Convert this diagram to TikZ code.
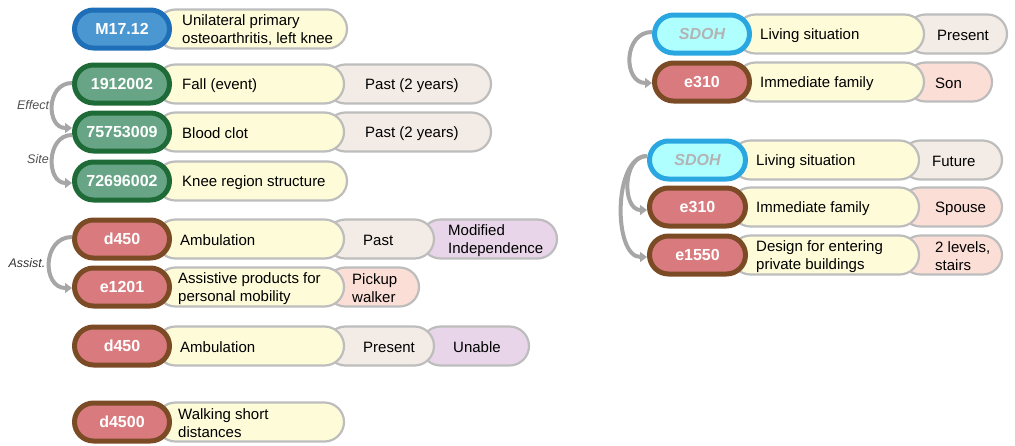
\documentclass[tikz,border=0pt]{standalone}
\usepackage{fontspec}
\setmainfont{Liberation Sans}
\usetikzlibrary{shapes.misc,arrows.meta}

\definecolor{yellowfill}{HTML}{FEFBD8}
\definecolor{beigefill}{HTML}{F3EBE5}
\definecolor{pinkfill}{HTML}{FBDED5}
\definecolor{purplefill}{HTML}{E8D5E9}
\definecolor{pillline}{HTML}{BDBDBD}
\definecolor{greenfill}{HTML}{68A586}
\definecolor{greenline}{HTML}{1F6B38}
\definecolor{redfill}{HTML}{D97B7E}
\definecolor{brownline}{HTML}{7B4B26}
\definecolor{bluefill}{HTML}{4B97D1}
\definecolor{blueline}{HTML}{1E6FB8}
\definecolor{sdohfill}{HTML}{B0FFFF}
\definecolor{sdohline}{HTML}{2AA7E1}
\definecolor{sdohtext}{HTML}{B3B3B3}
\definecolor{arrowgray}{HTML}{A6A6A6}
\definecolor{labelgray}{HTML}{505050}

\tikzset{
  pill/.style={rounded rectangle, draw=pillline, line width=2.2pt,
    minimum height=39pt, inner sep=0pt},
  codepill/.style={rounded rectangle, line width=5pt, minimum height=38pt,
    minimum width=95pt, inner sep=0pt, text=white,
    font=\bfseries\fontsize{16}{19}\selectfont},
  green code/.style={codepill, fill=greenfill, draw=greenline},
  red code/.style={codepill, fill=redfill, draw=brownline},
  blue code/.style={codepill, fill=bluefill, draw=blueline},
  sdoh code/.style={codepill, fill=sdohfill, draw=sdohline, text=sdohtext,
    font=\bfseries\itshape\fontsize{16}{19}\selectfont},
  txt/.style={anchor=west, inner sep=0pt, align=left, yshift=-1.5pt,
    font=\fontsize{15}{18}\selectfont},
  rel/.style={inner sep=0pt, text=labelgray,
    font=\itshape\fontsize{12.5}{15}\selectfont},
  relarrow/.style={draw=arrowgray, line width=4pt,
    -{Triangle[length=7pt,width=10pt]}},
}

% stadium-shaped field: name, outer left x, outer right x, centre y, fill
\newcommand{\fieldpill}[5]{%
  \node[pill, fill=#5, minimum width={(#3-#2-2)*1pt}] (#1) at ({(#2+#3)/2},#4) {};}

\begin{document}
\begin{tikzpicture}[x=1pt,y=-1pt]
\useasboundingbox (0,0) rectangle (1015,445);

% ---------- left column ----------
% M17.12
\fieldpill{m1y}{155}{348}{29}{yellowfill}
\node[blue code] (m1) at (122,29) {M17.12};
\node[txt] (m1t) at (182,29) {Unilateral primary\\osteoarthritis, left knee};

% 1912002
\fieldpill{s1b}{325}{492}{84}{beigefill}
\fieldpill{s1y}{155}{345}{84}{yellowfill}
\node[green code] (s1) at (122,84) {1912002};
\node[txt] (s1t) at (182,84) {Fall (event)};
\node[txt] (s1p) at (365,84) {Past (2 years)};

% 75753009
\fieldpill{s2b}{325}{492}{132}{beigefill}
\fieldpill{s2y}{155}{345}{132}{yellowfill}
\node[green code] (s2) at (122,132) {75753009};
\node[txt] (s2t) at (182,132) {Blood clot};
\node[txt] (s2p) at (365,132) {Past (2 years)};

% 72696002
\fieldpill{s3y}{155}{348}{181}{yellowfill}
\node[green code] (s3) at (122,181) {72696002};
\node[txt] (s3t) at (182,181) {Knee region structure};

% d450 (past)
\fieldpill{d1q}{420}{558}{239}{purplefill}
\fieldpill{d1b}{325}{435}{239}{beigefill}
\fieldpill{d1y}{155}{345}{239}{yellowfill}
\node[red code] (d1) at (122,239) {d450};
\node[txt] (d1t) at (180,239) {Ambulation};
\node[txt] (d1p) at (363,239) {Past};
\node[txt] (d1q t) at (448,239) {Modified\\Independence};

% e1201
\fieldpill{e1p}{325}{420}{287}{pinkfill}
\fieldpill{e1y}{155}{345}{287}{yellowfill}
\node[red code] (e1) at (122,287) {e1201};
\node[txt] (e1t) at (178,287) {Assistive products for\\personal mobility};
\node[txt] (e1pt) at (352,287) {Pickup\\walker};

% d450 (present)
\fieldpill{d2q}{420}{530}{346}{purplefill}
\fieldpill{d2b}{325}{435}{346}{beigefill}
\fieldpill{d2y}{155}{345}{346}{yellowfill}
\node[red code] (d2) at (122,346) {d450};
\node[txt] (d2t) at (180,346) {Ambulation};
\node[txt] (d2p) at (363,346) {Present};
\node[txt] (d2q t) at (453,346) {Unable};

% d4500
\fieldpill{d3y}{155}{345}{422}{yellowfill}
\node[red code] (d3) at (122,422) {d4500};
\node[txt] (d3t) at (178,422) {Walking short\\distances};

% ---------- right column ----------
% SDOH, present
\fieldpill{h1b}{905}{1008}{34}{beigefill}
\fieldpill{h1y}{735}{925}{34}{yellowfill}
\node[sdoh code] (h1) at (702,34) {SDOH};
\node[txt] (h1t) at (760,34) {Living situation};
\node[txt] (h1p) at (937,34) {Present};

% e310, son
\fieldpill{f1p}{905}{993}{82}{pinkfill}
\fieldpill{f1y}{735}{925}{82}{yellowfill}
\node[red code] (f1) at (702,82) {e310};
\node[txt] (f1t) at (760,82) {Immediate family};
\node[txt] (f1pt) at (935,82) {Son};

% SDOH, future
\fieldpill{h2b}{900}{1003}{160}{beigefill}
\fieldpill{h2y}{730}{920}{160}{yellowfill}
\node[sdoh code, minimum width=96pt] (h2) at (697.5,160) {SDOH};
\node[txt] (h2t) at (756,160) {Living situation};
\node[txt] (h2p) at (932,160) {Future};

% e310, spouse
\fieldpill{f2p}{900}{1003}{207}{pinkfill}
\fieldpill{f2y}{730}{920}{207}{yellowfill}
\node[red code, minimum width=96pt] (f2) at (697.5,207) {e310};
\node[txt] (f2t) at (756,207) {Immediate family};
\node[txt] (f2pt) at (935,207) {Spouse};

% e1550
\fieldpill{g1p}{900}{1003}{255}{pinkfill}
\fieldpill{g1y}{730}{920}{255}{yellowfill}
\node[red code, minimum width=96pt] (g1) at (697.5,255) {e1550};
\node[txt] (g1t) at (756,255) {Design for entering\\private buildings};
\node[txt] (g1pt) at (935,255) {2 levels,\\stairs};

% ---------- relation arrows ----------
\draw[relarrow] ([yshift=1pt]s1.west) to[out=180,in=180,distance=26pt] ([yshift=4pt]s2.west);
\draw[relarrow] ([yshift=-3pt]s2.west) to[out=180,in=180,distance=26pt] ([yshift=-2pt]s3.west);
\draw[relarrow] ([yshift=2pt]d1.west) to[out=180,in=180,distance=30pt] ([yshift=-1pt]e1.west);
\draw[relarrow] ([yshift=2pt]h1.west) to[out=180,in=180,distance=29pt] ([yshift=-1pt]f1.west);
\draw[relarrow] ([yshift=4pt]h2.west) to[out=180,in=180,distance=25pt] ([yshift=-3pt]f2.west);
\draw[relarrow] ([yshift=4pt]h2.west) to[out=180,in=180,distance=34pt] ([yshift=-2pt]g1.west);

\node[rel] (effect) at (33,105) {Effect};
\node[rel] (site) at (38,159) {Site};
\node[rel, text=black!80] (assist) at (27,263) {Assist.};
\end{tikzpicture}
\end{document}
